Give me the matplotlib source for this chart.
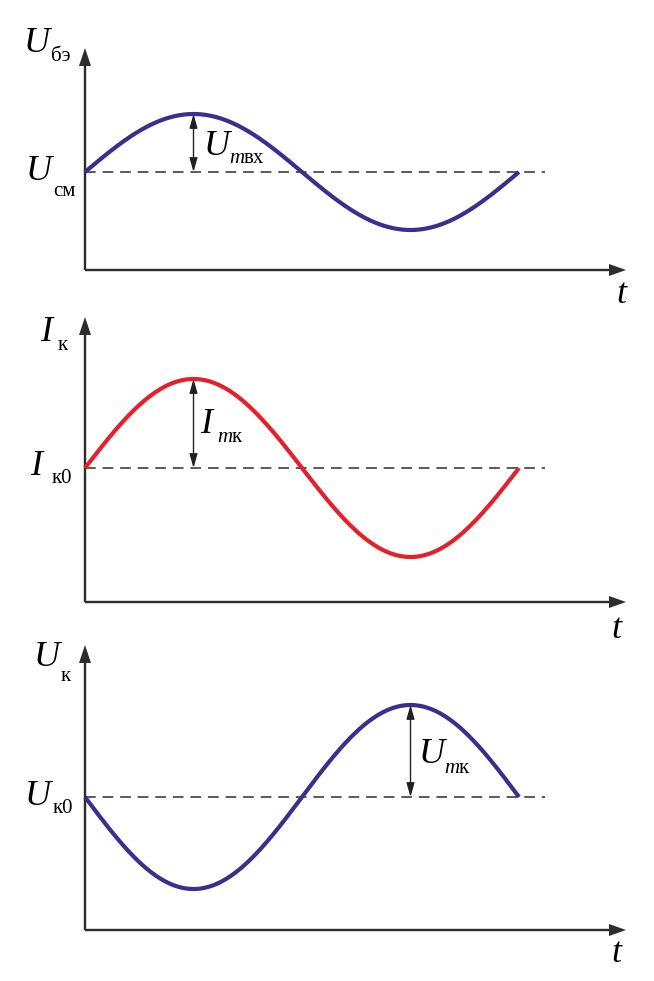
import matplotlib.pyplot as plt
import numpy as np

plt.rcParams['font.family'] = ['Liberation Serif', 'DejaVu Serif']

# curve parameters for each panel (pixel-like units, origin at axes corner)
period = 434
baselines = [98, 134, 133]
amplitudes = [58, 89, -92]
colors = ['#3b2f8c', '#e3202b', '#3b2f8c']

# y-label subscripts, baseline-level subscripts, amplitude subscripts
y_subs = ['бэ', 'к', 'к']
base_subs = ['см', 'к0', 'к0']
amp_subs = ['вх', 'к', 'к']

# panel placement in the figure (pixels from top): origin, top, bottom
origins = [270, 602, 930]
tops = [0, 300, 630]
bottoms = [320, 650, 981]

W, H = 654, 981
x0 = 85
axis_col = '#2d2d2d'

fig = plt.figure(figsize=(W / 100, H / 100), dpi=100)

fs, fsub = 26, 15


def label(ax, x, y, letter, sub, dx, dy, m=False):
    ax.text(x, y, letter, fontsize=fs, style='italic')
    if m:
        ax.text(x + dx, y - dy, 'm', fontsize=fsub, style='italic')
        ax.text(x + dx + 15, y - dy, sub, fontsize=fsub)
    else:
        ax.text(x + dx, y - dy, sub, fontsize=fsub)


for i in range(3):
    o, top, bot = origins[i], tops[i], bottoms[i]
    ax = fig.add_axes([0, (H - bot) / H, 1, (bot - top) / H])
    ax.set_xlim(-x0, W - x0)
    ax.set_ylim(o - bot, o - top)
    ax.axis('off')

    # axes with arrows
    ymax = 222 if i == 0 else 285
    ax.arrow(0, 0, 541, 0, width=2.4, head_width=12, head_length=17,
             length_includes_head=True, fc=axis_col, ec='none')
    ax.arrow(0, 0, 0, ymax, width=2.4, head_width=12, head_length=18,
             length_includes_head=True, fc=axis_col, ec='none')

    # dashed level line
    b, a = baselines[i], amplitudes[i]
    ax.plot([0, 460], [b, b], color=axis_col, lw=1.1, dashes=(7, 4.5))

    # sine curve
    t = np.linspace(0, period, 400)
    ax.plot(t, b + a * np.sin(2 * np.pi * t / period), color=colors[i],
            lw=3.0, solid_capstyle='butt')

    # amplitude double arrow
    xa = period / 4 if a > 0 else 3 * period / 4
    ax.annotate('', xy=(xa, b + abs(a)), xytext=(xa, b),
                arrowprops=dict(arrowstyle='<|-|>,head_length=0.7,head_width=0.2',
                                mutation_scale=12, lw=1.0, color='#222222',
                                shrinkA=0, shrinkB=0))

    # labels
    if i == 0:
        label(ax, -61, 218, 'U', y_subs[i], 27, 9)
        label(ax, -59, 90, 'U', base_subs[i], 27, 16)
        label(ax, 119, 115, 'U', amp_subs[i], 25, 8, m=True)
        ax.text(531, -33, 't', fontsize=fs, style='italic')
    elif i == 1:
        label(ax, -45, 261, 'I', y_subs[i], 18, 9)
        label(ax, -55, 127, 'I', base_subs[i], 22, 8)
        label(ax, 115, 169, 'I', amp_subs[i], 17, 9, m=True)
        ax.text(526, -36, 't', fontsize=fs, style='italic')
    else:
        label(ax, -51, 264, 'U', y_subs[i], 27, 15)
        label(ax, -60, 125, 'U', base_subs[i], 28, 8)
        label(ax, 334, 167, 'U', amp_subs[i], 25, 10, m=True)
        ax.text(526, -32, 't', fontsize=fs, style='italic')

fig.savefig('out.png', dpi=100)
